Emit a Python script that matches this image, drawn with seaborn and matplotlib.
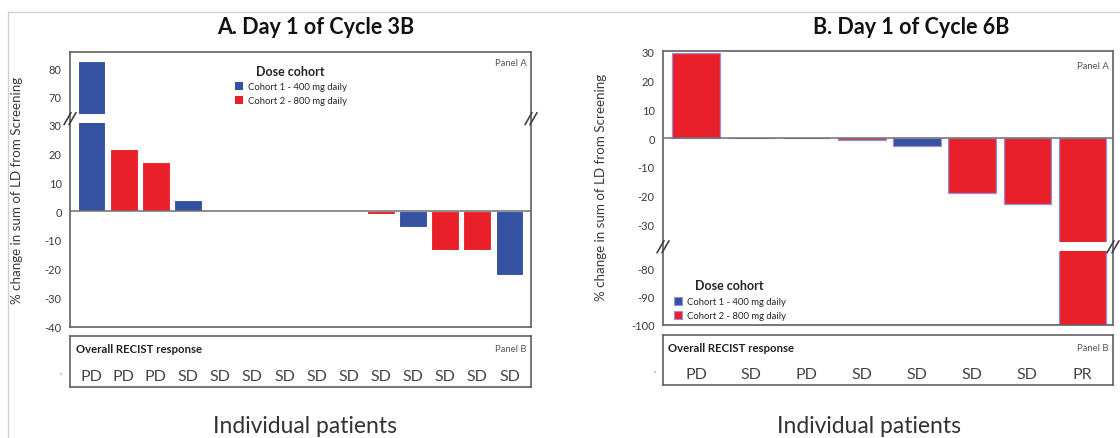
"""Waterfall plots: % change in sum of LD, cycle 3B and cycle 6B."""

import matplotlib
matplotlib.use("Agg")  # Non-interactive backend
import matplotlib.pyplot as plt
from matplotlib.lines import Line2D
from matplotlib.patches import Patch
import pandas as pd
import seaborn as sns

W, H = 1120, 439

COHORT_COLORS = {
    "Cohort 1 - 400 mg daily": "#3451A2",
    "Cohort 2 - 800 mg daily": "#E9202A",
}
COHORT_NAMES = list(COHORT_COLORS)

# Panel A: Day 1 of Cycle 3B
a_change = [82.5, 21.7, 17.0, 4.0, 0, 0, 0, 0, 0, -0.9, -5.5, -13.6, -13.6, -22.0]
a_cohort = [1, 2, 2, 1, 1, 1, 1, 1, 1, 2, 1, 2, 2, 1]
a_recist = ["PD", "PD", "PD", "SD", "SD", "SD", "SD", "SD", "SD", "SD", "SD", "SD", "SD", "SD"]

# Panel B: Day 1 of Cycle 6B
b_change = [29.6, 0, 0, -0.8, -2.8, -19.0, -22.8, -100.0]
b_cohort = [2, 1, 2, 2, 1, 2, 2, 2]
b_recist = ["PD", "SD", "PD", "SD", "SD", "SD", "SD", "PR"]

FRAME = "#606060"
TEXT = "#3a3a3a"


def px_axes(fig, x0, y0, x1, y1):
    # pixel box (y measured from the top) -> figure axes
    return fig.add_axes([x0 / W, 1 - y1 / H, (x1 - x0) / W, (y1 - y0) / H])


def fig_line(fig, xs, ys, **kw):
    fig.add_artist(Line2D([x / W for x in xs], [1 - y / H for y in ys],
                          transform=fig.transFigure, **kw))


def style_frame(ax):
    for s in ax.spines.values():
        s.set_color(FRAME)
        s.set_linewidth(1.2)


def draw_bars(ax, values, cohorts, edge, lw, xlim, ylim, yticks):
    df = pd.DataFrame({
        "patient": range(len(values)),
        "change": values,
        "cohort": [COHORT_NAMES[c - 1] for c in cohorts],
    })
    sns.barplot(data=df, x="patient", y="change", hue="cohort",
                palette=COHORT_COLORS, dodge=False, width=0.86,
                saturation=1, edgecolor=edge, linewidth=lw, errorbar=None,
                legend=False, ax=ax)
    ax.axhline(0, color="#707070", lw=1.1, zorder=3)
    ax.set_xlim(*xlim)
    ax.set_ylim(*ylim)
    ax.set_yticks(yticks)
    ax.set_xticks([])
    ax.set_xlabel("")
    ax.set_ylabel("")
    ax.tick_params(axis="y", length=4, width=1, color=FRAME,
                   labelsize=8, labelcolor=TEXT, pad=2)
    style_frame(ax)


def broken_panel(fig, box, gap, xlim, values, cohorts, top_ylim, top_ticks,
                 bot_ylim, bot_ticks, edge, lw):
    x0, y0, x1, y1 = box
    ax_top = px_axes(fig, x0, y0, x1, gap[0])
    ax_bot = px_axes(fig, x0, gap[1], x1, y1)
    draw_bars(ax_top, values, cohorts, edge, lw, xlim, top_ylim, top_ticks)
    draw_bars(ax_bot, values, cohorts, edge, lw, xlim, bot_ylim, bot_ticks)
    ax_top.spines["bottom"].set_visible(False)
    ax_bot.spines["top"].set_visible(False)
    # continuous side frame across the break + "//" marks
    ymid = (gap[0] + gap[1]) / 2
    for x in (x0, x1):
        fig_line(fig, [x, x], [gap[0], gap[1]], color=FRAME, lw=1.2)
        for dx in (-2.5, 2.5):
            fig_line(fig, [x + dx - 3.5, x + dx + 3.5], [ymid + 6, ymid - 6],
                     color="#404040", lw=1.2)
    return ax_top, ax_bot


def recist_panel(fig, box, xlim, labels):
    ax = px_axes(fig, *box)
    ax.set_xlim(*xlim)
    ax.set_ylim(0, 1)
    ax.set_xticks([])
    ax.set_yticks([])
    style_frame(ax)
    ax.text(0.012, 0.75, "Overall RECIST response", transform=ax.transAxes,
            fontsize=8.2, fontweight="bold", color="#222", va="center")
    ax.text(0.99, 0.75, "Panel B", transform=ax.transAxes, ha="right",
            fontsize=6.8, color="#555", va="center")
    for i, lab in enumerate(labels):
        ax.text(i, 0.21, lab, ha="center", va="center", fontsize=11.5,
                color="#444")
    ax.text(-0.018, 0.21, "'", transform=ax.transAxes, ha="right",
            va="center", fontsize=7, color="#666")
    return ax


def legend_handles(edge):
    return [Patch(facecolor=COHORT_COLORS[n], edgecolor=edge, lw=0.8)
            for n in COHORT_NAMES]


sns.set_style("white")
plt.rcParams["font.family"] = ["Lato", "DejaVu Sans"]
plt.rcParams["axes.unicode_minus"] = False

fig = plt.figure(figsize=(W / 100, H / 100), dpi=100)

# screenshot border
fig_line(fig, [8, W], [12.5, 12.5], color="#d0d0d0", lw=1)
fig_line(fig, [8, 8], [12.5, H], color="#d0d0d0", lw=1)

legend_kw = dict(loc="upper left", frameon=False, fontsize=6.8,
                 handlelength=0.9, handleheight=0.9, handletextpad=0.5,
                 labelspacing=0.55,
                 title_fontproperties={"weight": "bold", "size": 9})

# ---- left chart ----
a_xlim = (-0.67, len(a_change) - 1 + 0.67)
a_top, a_bot = broken_panel(
    fig, (70, 52.7, 531, 327.7), (115, 124.3), a_xlim, a_change, a_cohort,
    (63.7, 85.8), [70, 80], (-40.1, 30.5), [-40, -30, -20, -10, 0, 10, 20, 30],
    "white", 0.8)
a_top.text(0.99, 0.78, "Panel A", transform=a_top.transAxes, ha="right",
           fontsize=6.8, color="#555")
recist_panel(fig, (70, 336.7, 531, 387.7), a_xlim, a_recist)
fig.legend(legend_handles("none"), COHORT_NAMES, title="Dose cohort",
           bbox_to_anchor=(226 / W, 1 - 57 / H), **legend_kw)
fig.text(316 / W, 1 - 27 / H, "A. Day 1 of Cycle 3B", ha="center",
         va="center", fontsize=15.5, fontweight="bold", color="#111")
fig.text(17 / W, 1 - 190 / H, "% change in sum of LD from Screening",
         rotation=90, ha="center", va="center", fontsize=9.6, color=TEXT)
fig.text(305 / W, 1 - 433 / H, "Individual patients", ha="center",
         va="baseline", fontsize=16.5, color="#333")

# ---- right chart ----
b_xlim = (-0.6, len(b_change) - 1 + 0.55)
b_top, b_bot = broken_panel(
    fig, (663, 52, 1113, 326), (243.3, 252.3), b_xlim, b_change, b_cohort,
    (-36.1, 30.2), [-30, -20, -10, 0, 10, 20, 30], (-100.1, -74.1),
    [-100, -90, -80], "#9b8fdc", 0.9)
b_top.text(0.99, 0.95, "Panel A", transform=b_top.transAxes, ha="right",
           va="top", fontsize=6.8, color="#555")
recist_panel(fig, (663, 335.7, 1113, 385.7), b_xlim, b_recist)
fig.legend(legend_handles("#9b8fdc"), COHORT_NAMES, title="Dose cohort",
           bbox_to_anchor=(665 / W, 1 - 272 / H), **legend_kw)
fig.text(911 / W, 1 - 27 / H, "B. Day 1 of Cycle 6B", ha="center",
         va="center", fontsize=15.5, fontweight="bold", color="#111")
fig.text(601 / W, 1 - 187 / H, "% change in sum of LD from Screening",
         rotation=90, ha="center", va="center", fontsize=9.6, color=TEXT)
fig.text(869 / W, 1 - 433 / H, "Individual patients", ha="center",
         va="baseline", fontsize=16.5, color="#333")

fig.savefig("out.png", dpi=100)
plt.close(fig)
